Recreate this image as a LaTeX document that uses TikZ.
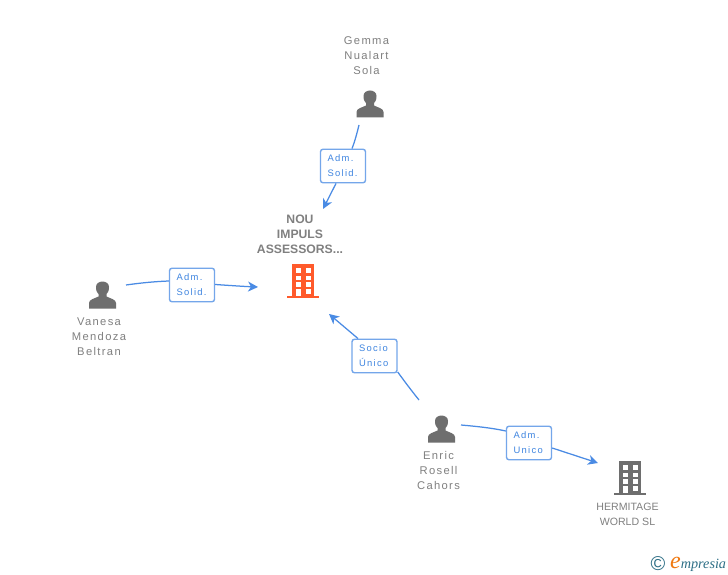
\documentclass[tikz,border=0pt]{standalone}
\usepackage{fontspec}
\setmainfont{Liberation Sans}
\newfontfamily\spacedfont[LetterSpace=12]{Liberation Sans}
\newfontfamily\boxfont[LetterSpace=14]{Liberation Sans}
\newfontfamily\logofont{Liberation Serif}
\usetikzlibrary{arrows.meta}
\definecolor{txtgray}{HTML}{808080}
\definecolor{icongray}{HTML}{6E6E6E}
\definecolor{linkblue}{HTML}{4A8BE4}
\definecolor{boxtxt}{HTML}{3F85E0}
\definecolor{boxedge}{HTML}{74A6EA}
\definecolor{orangeb}{HTML}{FF5A2B}
\definecolor{logoteal}{HTML}{2E6F86}
\definecolor{logoorange}{HTML}{F07A12}
\tikzset{
  x=1pt,y=-1pt,
  persontxt/.style={font=\spacedfont\fontsize{11.2}{15}\selectfont,text=txtgray,align=center,inner sep=0pt},
  cotxt/.style={font=\fontsize{10.6}{15}\selectfont,text=txtgray,align=center,inner sep=0pt},
  maintxt/.style={font=\bfseries\fontsize{12.2}{15}\selectfont,text=txtgray,align=center,inner sep=0pt},
  relbox/.style={draw=boxedge,line width=1.4pt,rounded corners=2.5pt,fill=white,text width=38pt,minimum height=33.5pt,inner xsep=3.5pt,inner ysep=0pt,align=left,font=\boxfont\fontsize{9.4}{15}\selectfont,text=boxtxt},
  link/.style={draw=linkblue,line width=1.25pt},
  linkend/.style={link,-{Stealth[length=10pt,width=10pt,inset=3pt]}},
  iconpt/.style={inner sep=0pt,minimum size=0pt,outer sep=0pt},
}
% person icon centred on (#1,#2)
\newcommand{\personicon}[2]{%
  \fill[icongray,shift={(#1,#2)}] (-13.5,13.5) -- (-13.5,8) .. controls (-13.5,4.5) and (-8,3.5) .. (-4,1.5)
    -- (-4,-1) .. controls (-6.5,-3.5) and (-6.5,-6) .. (-6.5,-8) .. controls (-6.5,-11.5) and (-3.5,-13.5) .. (0,-13.5)
    .. controls (3.5,-13.5) and (6.5,-11.5) .. (6.5,-8) .. controls (6.5,-6) and (6.5,-3.5) .. (4,-1)
    -- (4,1.5) .. controls (8,3.5) and (13.5,4.5) .. (13.5,8) -- (13.5,13.5) -- cycle;}
% building icon centred on (#1,#2)
\newcommand{\buildingicon}[3]{%
  \begin{scope}[shift={(#1,#2)}]
    \fill[#3] (-11,-17) rectangle (11,15);
    \fill[#3] (-16,15) rectangle (16,17);
    \foreach \yy in {-13,-5.5,1}{
      \fill[white] (-7,\yy) rectangle (-2,\yy+4.5);
      \fill[white] (3,\yy) rectangle (8,\yy+4.5);}
    \fill[white] (-7,7.5) rectangle (-2,15);
    \fill[white] (3,7.5) rectangle (8,12.5);
  \end{scope}}
\begin{document}
\begin{tikzpicture}
\useasboundingbox[fill=white] (0,0) rectangle (728,575);
% icons
\personicon{370}{104}
\personicon{102.5}{295}
\personicon{441.5}{429}
\buildingicon{303}{281}{orangeb}
\buildingicon{630}{478}{icongray}
% icon anchors
\node[iconpt,minimum size=28pt] (gemma) at (370,104) {};
\node[iconpt,minimum size=28pt] (vanesa) at (102.5,295) {};
\node[iconpt,minimum size=28pt] (enric) at (441.5,429) {};
\node[iconpt,minimum size=32pt] (nou) at (303,281) {};
\node[iconpt,minimum size=32pt] (hermitage) at (630,478) {};
% labels
\node[persontxt] (lgemma) at (366.5,56) {Gemma\\Nualart\\Sola};
\node[persontxt] (lvanesa) at (99,337) {Vanesa\\Mendoza\\Beltran};
\node[persontxt] (lenric) at (438.5,470.5) {Enric\\Rosell\\Cahors};
\node[maintxt] (lnou) at (300,234.5) {NOU\\IMPULS\\ASSESSORS...};
\node[cotxt] (lherm) at (627.5,514.5) {HERMITAGE\\WORLD SL};
% relation boxes
\node[relbox] (r1) at (343,166) {\hspace*{3.5pt}Adm.\\\hspace*{3.5pt}Solid.};
\node[relbox] (r2) at (192,285) {\hspace*{3.5pt}Adm.\\\hspace*{3.5pt}Solid.};
\node[relbox] (r3) at (374.5,356) {\hspace*{3.5pt}Socio\\\hspace*{3.5pt}Único};
\node[relbox] (r4) at (529,443) {\hspace*{3.5pt}Adm.\\\hspace*{3.5pt}Unico};
% free ends
\coordinate (g0) at (359,125);
\coordinate (g1) at (323,209);
\coordinate (v0) at (126,285);
\coordinate (v1) at (258,287);
\coordinate (e0) at (419,400);
\coordinate (e1) at (329,314);
\coordinate (f0) at (461,425);
\coordinate (f1) at (598,463);
% connectors
\draw[link] (g0) .. controls (357,133) and (355,141) .. (r1.north -| 352,0);
\draw[linkend] (r1.south -| 336,0) -- (g1);
\draw[link] (v0) .. controls (140,283) and (155,281.5) .. (r2.west |- 0,281);
\draw[linkend] (r2.east |- 0,284.5) .. controls (230,285.5) and (245,286.5) .. (v1);
\draw[link] (e0) .. controls (411,390) and (405,382) .. (r3.east |- 0,372);
\draw[linkend] (r3.north -| 358,0) -- (e1);
\draw[link] (f0) .. controls (478,426.5) and (492,428) .. (r4.west |- 0,431);
\draw[linkend] (r4.east |- 0,448) -- (f1);
% logo
\node[inner sep=0pt,text=logoteal,font=\fontsize{20}{20}\selectfont] (copy) at (658,564) {©};
\node[inner sep=0pt,anchor=base west,text=logoteal,font=\logofont\itshape\fontsize{14.2}{14}\selectfont] (logo) at (670,568.5) {{\color{logoorange}\fontsize{24}{24}\selectfont e}mpresia};
\end{tikzpicture}
\end{document}
